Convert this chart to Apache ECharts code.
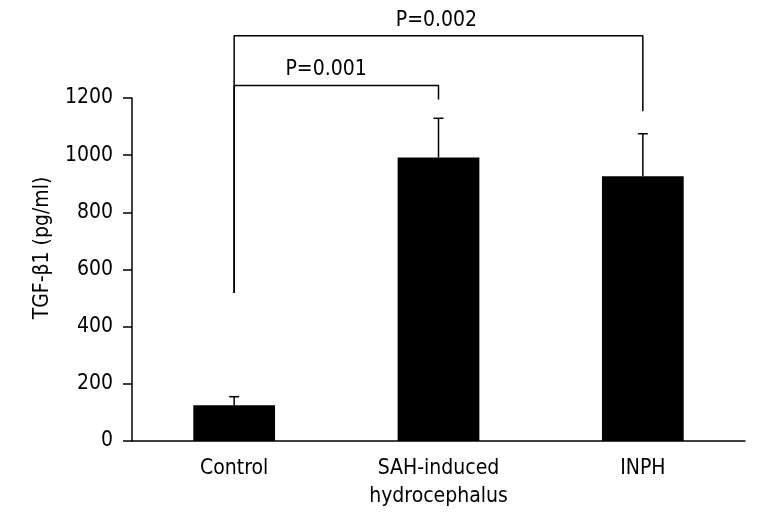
<!DOCTYPE html>
<html>
<head>
<meta charset="utf-8">
<script src="https://cdn.jsdelivr.net/npm/echarts@6/dist/echarts.min.js"></script>
<style>
  html, body { margin: 0; padding: 0; background: #fff; }
  #chart { width: 771px; height: 514px; }
</style>
</head>
<body>
<div id="chart"></div>
<script>
// groups and measured values
const categories = ['Control', 'SAH-induced\nhydrocephalus', 'INPH'];
const means = [125, 992, 926];
const errors = [30, 137, 149];

// significance brackets: from group, to group, height, end heights
const pLabels = ['P=0.001', 'P=0.002'];
const bracketFrom = [0, 0];
const bracketTo = [1, 2];
const bracketTop = [1244, 1418];
const bracketLeftEnd = [518, 518];
const bracketRightEnd = [1195, 1154];
const pLabelX = [0.45, 0.99];

// narrow face: stretch keyword goes in front of the size in the canvas font string
const font = '"DejaVu Sans", sans-serif';
const stretch = 'condensed';
const fs = 21;
const black = '#000';

const bracketSeries = pLabels.map((p, i) => ({
  type: 'line',
  xAxisIndex: 1,
  clip: false,
  symbol: 'none',
  silent: true,
  lineStyle: { color: black, width: 1.5 },
  data: [
    [bracketFrom[i], bracketLeftEnd[i]],
    [bracketFrom[i], bracketTop[i]],
    [bracketTo[i], bracketTop[i]],
    [bracketTo[i], bracketRightEnd[i]]
  ]
}));

const chart = echarts.init(document.getElementById('chart'));
chart.setOption({
  animation: false,
  textStyle: { fontFamily: font },
  grid: { left: 132, right: 26, top: 98, bottom: 73 },
  graphic: [{
    type: 'text',
    x: 43, y: 248,
    rotation: Math.PI / 2,
    style: {
      text: 'TGF-β1 (pg/ml)',
      font: stretch + ' ' + fs + 'px ' + font,
      fill: black,
      align: 'center',
      verticalAlign: 'middle'
    }
  }],
  xAxis: [{
    type: 'category',
    data: categories,
    axisLine: { lineStyle: { color: black, width: 1.5 } },
    axisTick: { length: 11, lineStyle: { color: black, width: 1.5 } },
    axisLabel: { color: black, fontSize: fs, fontWeight: stretch, margin: 14, lineHeight: 28, fontFamily: font }
  }, {
    type: 'value',
    min: -0.5,
    max: 2.5,
    show: false
  }],
  yAxis: {
    type: 'value',
    min: 0,
    max: 1200,
    interval: 200,
    splitLine: { show: false },
    axisLine: { show: true, onZero: false, lineStyle: { color: black, width: 1.5 } },
    axisTick: { show: true, length: 9, lineStyle: { color: black, width: 1.5 } },
    axisLabel: {
      color: black, fontSize: fs, fontWeight: stretch, margin: 19, fontFamily: font,
      formatter: v => String(v)
    }
  },
  series: [{
    type: 'bar',
    data: means,
    barWidth: '40%',
    itemStyle: { color: black }
  }, {
    type: 'custom',
    data: means.map((m, i) => [i, m, m + errors[i]]),
    renderItem: function (params, api) {
      const base = api.coord([api.value(0), api.value(1)]);
      const top = api.coord([api.value(0), api.value(2)]);
      const cap = 5;
      const style = { stroke: black, lineWidth: 1.5 };
      return {
        type: 'group',
        children: [
          { type: 'line', shape: { x1: base[0], y1: base[1], x2: top[0], y2: top[1] }, style },
          { type: 'line', shape: { x1: top[0] - cap, y1: top[1], x2: top[0] + cap, y2: top[1] }, style }
        ]
      };
    },
    z: 3
  }].concat(bracketSeries).concat([{
    type: 'scatter',
    xAxisIndex: 1,
    clip: false,
    symbolSize: 0,
    silent: true,
    itemStyle: { color: black, opacity: 1 },
    data: pLabels.map((p, i) => [pLabelX[i], bracketTop[i], p]),
    label: {
      show: true,
      position: 'top',
      distance: 5,
      color: black,
      opacity: 1,
      fontSize: fs,
      fontWeight: stretch,
      fontFamily: font,
      formatter: d => d.value[2]
    }
  }])
});
</script>
</body>
</html>
